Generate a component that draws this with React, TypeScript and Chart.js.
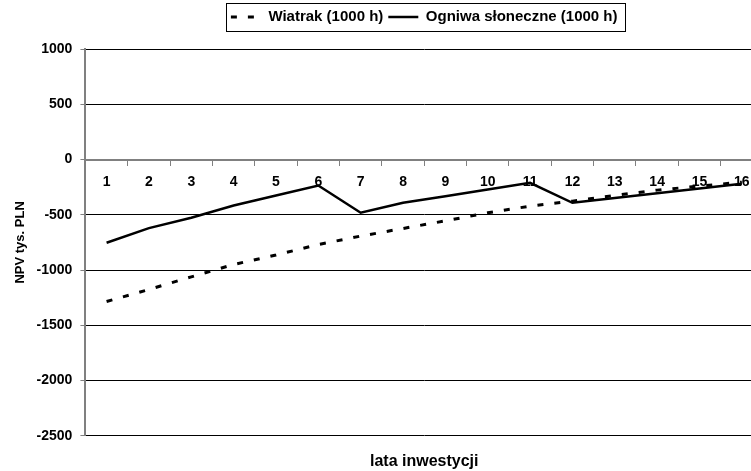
import React, { useEffect, useRef } from "react";
import { Chart, registerables } from "chart.js";

Chart.register(...registerables);

const years = ["1", "2", "3", "4", "5", "6", "7", "8", "9", "10", "11", "12", "13", "14", "15", "16"];
const wiatrak = [-1285, -1176, -1062, -950, -864, -769, -693, -624, -555, -482, -422, -377, -325, -277, -241, -205];
const ogniwa = [-753, -621, -527, -416, -325, -235, -482, -392, -332, -271, -211, -392, -349, -306, -263, -220];
const seriesNames = ["Wiatrak (1000 h)", "Ogniwa słoneczne (1000 h)"];
const yMin = -2500;
const yMax = 1000;
const yStep = 500;
const yTitle = "NPV tys. PLN";
const xTitle = "lata inwestycji";

const FONT = "'Liberation Sans', Arial, sans-serif";

const legendBorder = {
  id: "legendBorder",
  afterDraw(chart: any) {
    const lg = chart.legend;
    if (!lg || !lg.legendHitBoxes || !lg.legendHitBoxes.length) return;
    const hb = lg.legendHitBoxes;
    let left = Infinity;
    let right = -Infinity;
    hb.forEach((h: any) => {
      left = Math.min(left, h.left);
      right = Math.max(right, h.left + h.width);
    });
    const cy = hb[0].top + hb[0].height / 2;
    const ctx = chart.ctx;
    ctx.save();
    ctx.strokeStyle = "#000";
    ctx.lineWidth = 1;
    ctx.setLineDash([]);
    const x0 = Math.round(left - 5) + 0.5;
    const x1 = Math.round(right + 7) + 0.5;
    const y0 = Math.round(cy - 14) + 0.5;
    const y1 = Math.round(cy + 14) + 0.5;
    ctx.strokeRect(x0, y0, x1 - x0, y1 - y0);
    ctx.restore();
  },
};

export default function App() {
  const ref = useRef<HTMLCanvasElement | null>(null);
  useEffect(() => {
    if (!ref.current) return;
    const chart = new Chart(ref.current, {
      type: "line",
      data: {
        labels: years,
        datasets: [
          {
            label: seriesNames[0],
            data: wiatrak,
            xAxisID: "x",
            borderColor: "#000",
            backgroundColor: "#000",
            borderWidth: 3,
            borderDash: [6, 11],
            pointRadius: 0,
            tension: 0,
            fill: false,
          },
          {
            label: seriesNames[1],
            data: ogniwa,
            xAxisID: "x",
            borderColor: "#000",
            backgroundColor: "#000",
            borderWidth: 2.5,
            pointRadius: 0,
            tension: 0,
            fill: false,
          },
        ],
      },
      options: {
        animation: false,
        responsive: true,
        maintainAspectRatio: false,
        layout: { padding: { top: 4.5, right: 5, left: 0, bottom: 0 } },
        plugins: {
          tooltip: { enabled: false },
          title: {
            display: true,
            text: "",
            weight: 500,
            fullSize: false,
            padding: { top: 0, bottom: 4.5 },
            font: { size: 10, lineHeight: 1 },
          } as any,
          legend: {
            display: true,
            position: "top",
            fullSize: false,
            labels: {
              usePointStyle: true,
              pointStyle: "line",
              pointStyleWidth: 30,
              padding: 5,
              color: "#000",
              font: { family: FONT, size: 15, weight: "bold" },
              generateLabels: (c: any) => {
                const items = Chart.defaults.plugins.legend.labels.generateLabels(c);
                items.forEach((it: any) => {
                  const ds: any = c.data.datasets[it.datasetIndex];
                  it.lineDash = ds.borderDash || [];
                  it.lineWidth = ds.borderWidth;
                  it.strokeStyle = "#000";
                  it.fillStyle = "#000";
                  it.pointStyle = "line";
                });
                return items;
              },
            } as any,
          },
        },
        scales: {
          x: {
            type: "category",
            position: { y: 0 } as any,
            offset: true,
            grid: {
              display: true,
              drawOnChartArea: false,
              drawTicks: true,
              tickLength: 5,
              offset: true,
              tickColor: "#808080",
            },
            border: { display: true, color: "#808080", width: 2 },
            ticks: {
              autoSkip: false,
              maxRotation: 0,
              padding: 9,
              color: "#000",
              font: { family: FONT, size: 14, weight: "bold" },
            },
          },
          x2: {
            type: "category",
            position: "bottom",
            offset: true,
            grid: { display: false, drawTicks: false },
            border: { display: false },
            ticks: { display: false },
            title: {
              display: true,
              text: xTitle,
              color: "#000",
              padding: { top: 16, bottom: 0 },
              font: { family: FONT, size: 16, weight: "bold" },
            },
          },
          y: {
            type: "linear",
            position: "left",
            min: yMin,
            max: yMax,
            ticks: {
              stepSize: yStep,
              padding: 8,
              color: "#000",
              font: { family: FONT, size: 14, weight: "bold" },
              callback: (v: any) => String(v),
            },
            grid: {
              color: (c: any) => (c.tick && c.tick.value === 0 ? "rgba(0,0,0,0)" : "#000"),
              lineWidth: 1,
              drawTicks: true,
              tickLength: 5,
              tickColor: "#808080",
            },
            border: { display: true, color: "#808080", width: 2 },
            title: {
              display: true,
              text: yTitle,
              color: "#000",
              padding: { top: 13, bottom: 0 },
              font: { family: FONT, size: 13, weight: "bold" },
            },
          },
        },
      } as any,
      plugins: [legendBorder],
    });
    return () => chart.destroy();
  }, []);

  return (
    <div style={{ position: "absolute", left: 0, top: 0, width: 751, height: 471, overflow: "hidden", background: "#fff" }}>
      <div style={{ position: "relative", width: 768, height: 471 }}>
        <canvas ref={ref} />
      </div>
    </div>
  );
}
